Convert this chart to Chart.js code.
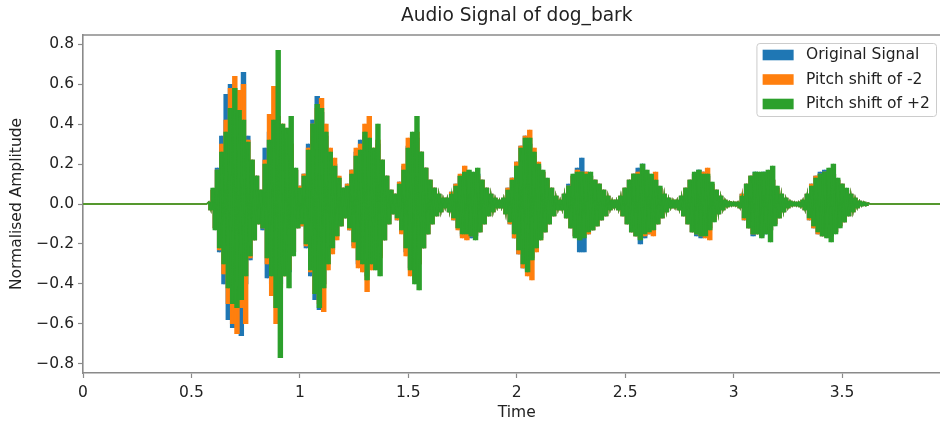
<!DOCTYPE html>
<html>
<head>
<meta charset="utf-8">
<script src="https://cdn.jsdelivr.net/npm/chart.js@4/dist/chart.umd.min.js"></script>
<style>
  html, body { margin: 0; padding: 0; background: #fff; overflow: hidden; }
  canvas { display: block; }
</style>
</head>
<body>
<canvas id="waveChart" width="952" height="423"></canvas>
<script>
// Waveform: signed peak samples every 0.01 s from 0.58 s to 3.62 s.
// Before and after that the signal sits flat at zero.
const chartTitle = 'Audio Signal of dog_bark';
const seriesLabels = ['Original Signal', 'Pitch shift of -2', 'Pitch shift of +2'];
const seriesColors = ['#1f77b4', '#ff7f0e', '#2ca02c'];
const sampleStart = 0.58;
const sampleStep = 0.01;
const timeMax = 4.0;

const originalSignal = [
  0.01, -0.03, 0.07, -0.12, 0.18, -0.24, 0.34, -0.40, 0.55, -0.58,      // 0.58
  0.60, -0.62, 0.52, -0.50, 0.55, -0.66, 0.66, -0.40, 0.34, -0.28,      // 0.68
  0.22, -0.18, 0.14, -0.10, 0.07, -0.13, 0.28, -0.37, 0.36, -0.40,      // 0.78
  0.40, -0.42, 0.42, -0.40, 0.36, -0.34, 0.33, -0.34, 0.30, -0.24,      // 0.88
  0.17, -0.12, 0.09, -0.11, 0.15, -0.22, 0.30, -0.36, 0.42, -0.48,      // 0.98
  0.54, -0.53, 0.46, -0.40, 0.34, -0.30, 0.27, -0.23, 0.20, -0.16,      // 1.08
  0.13, -0.11, 0.08, -0.07, 0.10, -0.13, 0.17, -0.21, 0.26, -0.30,      // 1.18
  0.32, -0.33, 0.34, -0.36, 0.32, -0.29, 0.27, -0.30, 0.30, -0.26,      // 1.28
  0.22, -0.18, 0.14, -0.10, 0.07, -0.05, 0.05, -0.08, 0.11, -0.14,      // 1.38
  0.19, -0.24, 0.29, -0.32, 0.34, -0.35, 0.33, -0.30, 0.26, -0.22,      // 1.48
  0.18, -0.15, 0.12, -0.10, 0.08, -0.06, 0.05, -0.04, 0.03, -0.02,      // 1.58
  0.03, -0.04, 0.06, -0.08, 0.10, -0.12, 0.14, -0.16, 0.16, -0.17,      // 1.68
  0.16, -0.17, 0.15, -0.16, 0.15, -0.14, 0.12, -0.10, 0.08, -0.06,      // 1.78
  0.05, -0.04, 0.03, -0.02, 0.02, -0.02, 0.03, -0.05, 0.08, -0.10,      // 1.88
  0.13, -0.17, 0.21, -0.25, 0.29, -0.32, 0.34, -0.33, 0.30, -0.27,      // 1.98
  0.24, -0.21, 0.19, -0.17, 0.16, -0.14, 0.12, -0.10, 0.08, -0.06,      // 2.08
  0.04, -0.03, 0.02, -0.03, 0.05, -0.07, 0.10, -0.12, 0.14, -0.16,      // 2.18
  0.18, -0.24, 0.23, -0.24, 0.16, -0.15, 0.14, -0.13, 0.12, -0.11,      // 2.28
  0.10, -0.08, 0.07, -0.06, 0.04, -0.03, 0.02, -0.02, 0.02, -0.03,      // 2.38
  0.04, -0.06, 0.08, -0.10, 0.12, -0.14, 0.15, -0.16, 0.18, -0.20,      // 2.48
  0.20, -0.17, 0.15, -0.15, 0.14, -0.13, 0.12, -0.10, 0.08, -0.07,      // 2.58
  0.05, -0.04, 0.03, -0.02, 0.02, -0.02, 0.02, -0.03, 0.04, -0.06,      // 2.68
  0.08, -0.10, 0.12, -0.14, 0.15, -0.16, 0.17, -0.17, 0.16, -0.15,      // 2.78
  0.14, -0.12, 0.10, -0.08, 0.07, -0.05, 0.04, -0.03, 0.02, -0.015,     // 2.88
  0.012, -0.01, 0.01, -0.01, 0.01, -0.02, 0.05, -0.08, 0.10, -0.12,     // 2.98
  0.14, -0.16, 0.16, -0.15, 0.15, -0.16, 0.16, -0.15, 0.14, -0.13,      // 3.08
  0.12, -0.10, 0.08, -0.07, 0.05, -0.04, 0.03, -0.02, 0.015, -0.01,     // 3.18
  0.01, -0.01, 0.01, -0.015, 0.02, -0.03, 0.05, -0.08, 0.10, -0.12,     // 3.28
  0.14, -0.15, 0.16, -0.16, 0.17, -0.16, 0.15, -0.16, 0.15, -0.14,      // 3.38
  0.12, -0.11, 0.10, -0.09, 0.07, -0.06, 0.05, -0.04, 0.03, -0.02,      // 3.48
  0.015, -0.01, 0.01, -0.008, 0.005                                     // 3.58
];

const pitchDown2 = [
  0.01, -0.03, 0.07, -0.12, 0.17, -0.23, 0.30, -0.35, 0.42, -0.50,      // 0.58
  0.58, -0.60, 0.64, -0.65, 0.57, -0.52, 0.60, -0.60, 0.32, -0.27,      // 0.68
  0.22, -0.18, 0.14, -0.10, 0.07, -0.12, 0.22, -0.30, 0.45, -0.46,      // 0.78
  0.59, -0.60, 0.44, -0.42, 0.40, -0.36, 0.34, -0.33, 0.30, -0.24,      // 0.88
  0.17, -0.12, 0.09, -0.11, 0.15, -0.21, 0.28, -0.34, 0.40, -0.45,      // 0.98
  0.48, -0.50, 0.53, -0.54, 0.40, -0.33, 0.28, -0.25, 0.23, -0.18,      // 1.08
  0.14, -0.11, 0.08, -0.07, 0.10, -0.13, 0.17, -0.22, 0.28, -0.32,      // 1.18
  0.30, -0.34, 0.40, -0.44, 0.44, -0.33, 0.28, -0.30, 0.32, -0.27,      // 1.28
  0.22, -0.18, 0.14, -0.10, 0.07, -0.05, 0.05, -0.08, 0.11, -0.15,      // 1.38
  0.20, -0.26, 0.33, -0.36, 0.35, -0.38, 0.36, -0.30, 0.26, -0.22,      // 1.48
  0.18, -0.15, 0.12, -0.10, 0.08, -0.06, 0.05, -0.04, 0.03, -0.02,      // 1.58
  0.03, -0.04, 0.06, -0.08, 0.10, -0.13, 0.15, -0.17, 0.19, -0.18,      // 1.68
  0.16, -0.16, 0.15, -0.15, 0.14, -0.14, 0.12, -0.10, 0.08, -0.06,      // 1.78
  0.05, -0.04, 0.03, -0.02, 0.02, -0.02, 0.03, -0.05, 0.08, -0.10,      // 1.88
  0.13, -0.17, 0.21, -0.25, 0.29, -0.32, 0.34, -0.36, 0.37, -0.38,      // 1.98
  0.28, -0.24, 0.21, -0.18, 0.16, -0.14, 0.12, -0.10, 0.08, -0.06,      // 2.08
  0.04, -0.03, 0.02, -0.03, 0.05, -0.07, 0.09, -0.12, 0.14, -0.16,      // 2.18
  0.17, -0.17, 0.16, -0.16, 0.16, -0.15, 0.14, -0.13, 0.12, -0.11,      // 2.28
  0.10, -0.08, 0.07, -0.06, 0.04, -0.03, 0.02, -0.02, 0.02, -0.03,      // 2.38
  0.04, -0.06, 0.08, -0.10, 0.12, -0.14, 0.15, -0.16, 0.16, -0.17,      // 2.48
  0.17, -0.16, 0.15, -0.15, 0.14, -0.16, 0.16, -0.10, 0.08, -0.07,      // 2.58
  0.05, -0.04, 0.03, -0.02, 0.02, -0.02, 0.02, -0.03, 0.04, -0.06,      // 2.68
  0.08, -0.10, 0.12, -0.14, 0.15, -0.15, 0.16, -0.16, 0.16, -0.17,      // 2.78
  0.18, -0.18, 0.10, -0.08, 0.07, -0.05, 0.04, -0.03, 0.02, -0.015,     // 2.88
  0.012, -0.01, 0.01, -0.01, 0.01, -0.02, 0.05, -0.08, 0.10, -0.12,     // 2.98
  0.14, -0.15, 0.15, -0.15, 0.15, -0.15, 0.15, -0.14, 0.14, -0.13,      // 3.08
  0.12, -0.10, 0.08, -0.07, 0.05, -0.04, 0.03, -0.02, 0.015, -0.01,     // 3.18
  0.01, -0.01, 0.01, -0.015, 0.02, -0.03, 0.05, -0.08, 0.10, -0.12,     // 3.28
  0.14, -0.15, 0.15, -0.16, 0.16, -0.16, 0.15, -0.15, 0.15, -0.14,      // 3.38
  0.12, -0.11, 0.10, -0.09, 0.07, -0.06, 0.05, -0.04, 0.03, -0.02,      // 3.48
  0.015, -0.01, 0.01, -0.008, 0.005                                     // 3.58
];

const pitchUp2 = [
  0.01, -0.03, 0.08, -0.13, 0.17, -0.22, 0.26, -0.30, 0.36, -0.42,      // 0.58
  0.48, -0.50, 0.58, -0.52, 0.47, -0.48, 0.42, -0.36, 0.31, -0.26,      // 0.68
  0.22, -0.18, 0.14, -0.10, 0.07, -0.12, 0.20, -0.27, 0.32, -0.36,      // 0.78
  0.42, -0.52, 0.77, -0.77, 0.40, -0.36, 0.38, -0.42, 0.44, -0.26,      // 0.88
  0.18, -0.12, 0.08, -0.10, 0.14, -0.20, 0.27, -0.33, 0.40, -0.45,      // 0.98
  0.50, -0.52, 0.48, -0.42, 0.36, -0.30, 0.26, -0.22, 0.19, -0.16,      // 1.08
  0.13, -0.11, 0.08, -0.07, 0.09, -0.12, 0.15, -0.19, 0.24, -0.28,      // 1.18
  0.27, -0.30, 0.36, -0.38, 0.33, -0.30, 0.28, -0.33, 0.40, -0.36,      // 1.28
  0.22, -0.18, 0.14, -0.10, 0.07, -0.05, 0.05, -0.07, 0.10, -0.13,      // 1.38
  0.17, -0.22, 0.28, -0.33, 0.36, -0.40, 0.44, -0.43, 0.26, -0.22,      // 1.48
  0.18, -0.15, 0.12, -0.10, 0.08, -0.06, 0.05, -0.04, 0.03, -0.02,      // 1.58
  0.03, -0.04, 0.05, -0.07, 0.09, -0.12, 0.14, -0.15, 0.16, -0.15,      // 1.68
  0.17, -0.16, 0.16, -0.18, 0.18, -0.14, 0.12, -0.10, 0.08, -0.06,      // 1.78
  0.05, -0.04, 0.03, -0.02, 0.02, -0.02, 0.03, -0.05, 0.07, -0.09,      // 1.88
  0.12, -0.15, 0.19, -0.23, 0.28, -0.30, 0.33, -0.34, 0.33, -0.28,      // 1.98
  0.26, -0.22, 0.20, -0.18, 0.17, -0.14, 0.13, -0.10, 0.08, -0.06,      // 2.08
  0.04, -0.03, 0.02, -0.03, 0.05, -0.07, 0.09, -0.12, 0.15, -0.17,      // 2.18
  0.16, -0.18, 0.16, -0.17, 0.15, -0.14, 0.16, -0.13, 0.12, -0.11,      // 2.28
  0.10, -0.08, 0.07, -0.06, 0.04, -0.03, 0.02, -0.02, 0.02, -0.03,      // 2.38
  0.04, -0.06, 0.08, -0.10, 0.12, -0.14, 0.15, -0.16, 0.15, -0.18,      // 2.48
  0.20, -0.15, 0.17, -0.14, 0.15, -0.13, 0.12, -0.10, 0.09, -0.07,      // 2.58
  0.05, -0.04, 0.03, -0.02, 0.02, -0.02, 0.02, -0.03, 0.04, -0.06,      // 2.68
  0.08, -0.10, 0.12, -0.14, 0.16, -0.15, 0.17, -0.16, 0.15, -0.16,      // 2.78
  0.15, -0.13, 0.11, -0.09, 0.07, -0.05, 0.04, -0.03, 0.02, -0.015,     // 2.88
  0.012, -0.01, 0.01, -0.01, 0.01, -0.02, 0.04, -0.07, 0.10, -0.12,     // 2.98
  0.14, -0.15, 0.16, -0.15, 0.16, -0.17, 0.16, -0.15, 0.17, -0.19,      // 3.08
  0.19, -0.11, 0.09, -0.07, 0.05, -0.04, 0.03, -0.02, 0.015, -0.01,     // 3.18
  0.01, -0.01, 0.01, -0.015, 0.02, -0.03, 0.05, -0.07, 0.09, -0.11,     // 3.28
  0.13, -0.14, 0.15, -0.16, 0.16, -0.17, 0.18, -0.19, 0.20, -0.15,      // 3.38
  0.13, -0.12, 0.10, -0.09, 0.08, -0.06, 0.05, -0.04, 0.03, -0.02,      // 3.48
  0.015, -0.01, 0.01, -0.008, 0.005                                     // 3.58
];

const xTickValues = [0, 0.5, 1, 1.5, 2, 2.5, 3, 3.5];
const xTickLabels = ['0', '0.5', '1', '1.5', '2', '2.5', '3', '3.5'];
const yTickValues = [-0.8, -0.6, -0.4, -0.2, 0, 0.2, 0.4, 0.6, 0.8];
const yTickLabels = ['\u22120.8', '\u22120.6', '\u22120.4', '\u22120.2', '0.0', '0.2', '0.4', '0.6', '0.8'];

const FONT = 'DejaVu Sans';
const TEXT_COLOR = '#222';
const SPINE_COLOR = '#8a8a8a';

// the trace itself, flat at zero before and after the bark
function toPoints(samples) {
    const pts = [{ x: 0, y: 0 }, { x: sampleStart - sampleStep, y: 0 }];
    samples.forEach((v, i) => pts.push({ x: sampleStart + i * sampleStep, y: v }));
    pts.push({ x: sampleStart + samples.length * sampleStep, y: 0 });
    pts.push({ x: timeMax, y: 0 });
    return pts;
}

// a column spanning each swing from one peak to the next, so the body is solid like a dense waveform
function toSwings(samples) {
    const cols = [];
    for (let i = 0; i < samples.length - 1; i++) {
        cols.push({ x: sampleStart + (i + 0.5) * sampleStep, y: [samples[i], samples[i + 1]] });
    }
    return cols;
}

// title centred over the axes, top spine and the boxed legend
const decorPlugin = {
    id: 'decor',
    afterDraw(chart) {
        const ctx = chart.ctx;
        const area = chart.chartArea;
        ctx.save();

        ctx.fillStyle = TEXT_COLOR;
        ctx.font = '18.6px "' + FONT + '"';
        ctx.textAlign = 'center';
        ctx.textBaseline = 'middle';
        ctx.fillText(chartTitle, (area.left + area.right) / 2, 16);

        ctx.strokeStyle = SPINE_COLOR;
        ctx.lineWidth = 1.6;
        ctx.beginPath();
        ctx.moveTo(area.left, area.top);
        ctx.lineTo(area.right, area.top);
        ctx.stroke();

        // legend
        ctx.font = '15.5px "' + FONT + '"';
        const textW = Math.max(...seriesLabels.map(l => ctx.measureText(l).width));
        const boxRight = 936, boxTop = 43, boxH = 73;
        const boxW = 6.2 + 31 + 12.4 + textW + 6.2;
        const boxLeft = boxRight - boxW;
        ctx.fillStyle = 'rgba(255,255,255,0.8)';
        ctx.strokeStyle = '#cccccc';
        ctx.lineWidth = 1;
        ctx.beginPath();
        ctx.roundRect(boxLeft + 0.5, boxTop + 0.5, boxW, boxH, 3);
        ctx.fill();
        ctx.stroke();
        seriesLabels.forEach((label, i) => {
            const cy = boxTop + 12 + i * 24.5;
            ctx.fillStyle = seriesColors[i];
            ctx.fillRect(boxLeft + 6.2, cy - 5.3, 31, 10.6);
            ctx.fillStyle = TEXT_COLOR;
            ctx.textAlign = 'left';
            ctx.fillText(label, boxLeft + 6.2 + 31 + 12.4, cy);
        });
        ctx.restore();
    }
};

const series = [originalSignal, pitchDown2, pitchUp2];
const datasets = [];
series.forEach((s, i) => {
    const rank = (3 - i) * 2;   // green drawn last, on top
    datasets.push({
        type: 'bar',
        label: seriesLabels[i],
        data: toSwings(s),
        backgroundColor: seriesColors[i],
        borderWidth: 0,
        barThickness: 2.6,
        grouped: false,
        order: rank
    });
    datasets.push({
        type: 'line',
        label: seriesLabels[i],
        data: toPoints(s),
        borderColor: seriesColors[i],
        borderWidth: 1.5,
        pointRadius: 0,
        tension: 0,
        fill: false,
        order: rank - 1
    });
});

const ctx = document.getElementById('waveChart').getContext('2d');

new Chart(ctx, {
    type: 'line',
    data: { datasets: datasets },
    options: {
        responsive: false,
        devicePixelRatio: 1,
        animation: false,
        events: [],
        layout: { padding: { top: 35, right: 1.5, bottom: 0, left: 0 } },
        plugins: {
            legend: { display: false },
            tooltip: { enabled: false },
            title: { display: false }
        },
        scales: {
            x: {
                type: 'linear',
                min: 0,
                max: timeMax,
                offset: false,
                afterFit: s => { s.height = 50; },
                afterBuildTicks: s => { s.ticks = xTickValues.map(v => ({ value: v })); },
                ticks: {
                    callback: (v, i) => xTickLabels[i],
                    font: { family: FONT, size: 15.5 },
                    color: TEXT_COLOR,
                    padding: 6,
                    maxRotation: 0,
                    autoSkip: false
                },
                grid: { offset: false, drawOnChartArea: false, drawTicks: true, tickLength: 5, tickColor: SPINE_COLOR, tickWidth: 1.2 },
                border: { display: true, color: SPINE_COLOR, width: 1.6 },
                title: { display: true, text: 'Time', font: { family: FONT, size: 15.5 }, color: TEXT_COLOR, padding: { top: 0, bottom: 1 } }
            },
            y: {
                min: -0.847,
                max: 0.847,
                afterFit: s => { s.width = 83; },
                afterBuildTicks: s => { s.ticks = yTickValues.map(v => ({ value: v })); },
                ticks: {
                    callback: (v, i) => yTickLabels[i],
                    font: { family: FONT, size: 15.5 },
                    color: TEXT_COLOR,
                    padding: 4,
                    autoSkip: false
                },
                grid: { drawOnChartArea: false, drawTicks: true, tickLength: 5, tickColor: SPINE_COLOR, tickWidth: 1.2 },
                border: { display: true, color: SPINE_COLOR, width: 1.6 },
                title: { display: true, text: 'Normalised Amplitude', font: { family: FONT, size: 15.5 }, color: TEXT_COLOR, padding: { top: 8, bottom: 0 } }
            }
        }
    },
    plugins: [decorPlugin]
});
</script>
</body>
</html>
